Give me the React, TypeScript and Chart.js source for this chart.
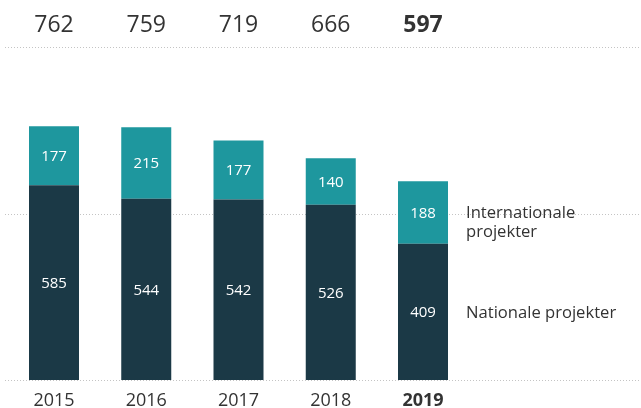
import React, { useEffect, useRef } from 'react';
import { Chart, registerables } from 'chart.js';

Chart.register(...registerables);

const years = ['2015', '2016', '2017', '2018', '2019'];
const national = [585, 544, 542, 526, 409];
const international = [177, 215, 177, 140, 188];
const totals = [762, 759, 719, 666, 597];
const gridValues = [0, 500, 1000];
const nationalLabel = ['Nationale projekter'];
const internationalLabel = ['Internationale', 'projekter'];

const FONT = "'Open Sans', sans-serif";
const TEAL = '#1e979e';
const NAVY = '#1b3946';
const TEXT = '#333333';

const overlayPlugin = {
  id: 'overlay',
  beforeDatasetsDraw(chart: any) {
    const { ctx } = chart;
    const yScale = chart.scales.y;
    ctx.save();
    ctx.strokeStyle = '#c4c4c4';
    ctx.lineWidth = 1;
    ctx.setLineDash([1, 2]);
    gridValues.forEach((v) => {
      const y = Math.round(yScale.getPixelForValue(v)) + 0.5;
      ctx.beginPath();
      ctx.moveTo(5, y);
      ctx.lineTo(chart.width, y);
      ctx.stroke();
    });
    ctx.restore();
  },
  afterDatasetsDraw(chart: any) {
    const { ctx } = chart;
    ctx.save();
    ctx.textAlign = 'center';
    ctx.textBaseline = 'middle';
    chart.data.datasets.forEach((ds: any, di: number) => {
      const meta = chart.getDatasetMeta(di);
      meta.data.forEach((el: any, i: number) => {
        const cy = (el.y + el.base) / 2;
        ctx.fillStyle = '#ffffff';
        ctx.font = `15px ${FONT}`;
        ctx.fillText(String(ds.data[i]), el.x, cy + 1);
      });
    });
    const topMeta = chart.getDatasetMeta(1);
    topMeta.data.forEach((el: any, i: number) => {
      ctx.fillStyle = TEXT;
      ctx.font = `${i === totals.length - 1 ? 'bold ' : ''}23px ${FONT}`;
      ctx.fillText(String(totals[i]), el.x, 25);
    });
    ctx.textAlign = 'left';
    ctx.fillStyle = TEXT;
    ctx.font = `16.6px ${FONT}`;
    const last = years.length - 1;
    const nEl = chart.getDatasetMeta(0).data[last];
    const iEl = chart.getDatasetMeta(1).data[last];
    const lx = 466;
    const nCy = (nEl.y + nEl.base) / 2;
    nationalLabel.forEach((t, k) => ctx.fillText(t, lx, nCy + 1 + k * 19));
    const iCy = (iEl.y + iEl.base) / 2;
    internationalLabel.forEach((t, k) => ctx.fillText(t, lx, iCy + 1 + k * 19));
    ctx.restore();
  },
};

export default function App() {
  const ref = useRef<HTMLCanvasElement | null>(null);

  useEffect(() => {
    if (!ref.current) return;
    const chart = new Chart(ref.current, {
      type: 'bar',
      data: {
        labels: years,
        datasets: [
          {
            label: nationalLabel.join(' '),
            data: national,
            backgroundColor: NAVY,
            borderWidth: 0,
            barPercentage: 50 / 92.25,
            categoryPercentage: 1,
          },
          {
            label: internationalLabel.join(' '),
            data: international,
            backgroundColor: TEAL,
            borderWidth: 0,
            barPercentage: 50 / 92.25,
            categoryPercentage: 1,
          },
        ],
      },
      options: {
        animation: false,
        responsive: false,
        devicePixelRatio: 1,
        layout: {
          padding: { top: 47, left: 7.875, right: 641 - 469.125, bottom: 0 },
        },
        plugins: {
          legend: { display: false },
          tooltip: { enabled: false },
        },
        scales: {
          x: {
            stacked: true,
            grid: { display: false, drawTicks: false },
            border: { display: false },
            ticks: {
              padding: 10,
              color: TEXT,
              font: (c: any) => ({
                family: FONT,
                size: 18,
                weight: c.index === years.length - 1 ? 'bold' : 'normal',
              }),
            },
            afterFit: (scale: any) => {
              scale.height = 28;
            },
          },
          y: {
            stacked: true,
            display: false,
            min: 0,
            max: 1000,
          },
        },
      },
      plugins: [overlayPlugin],
    });
    return () => chart.destroy();
  }, []);

  return (
    <div style={{ position: 'absolute', left: 0, top: 0, width: 641, height: 408, background: '#fff' }}>
      <canvas ref={ref} width={641} height={408} style={{ display: 'block' }} />
    </div>
  );
}
